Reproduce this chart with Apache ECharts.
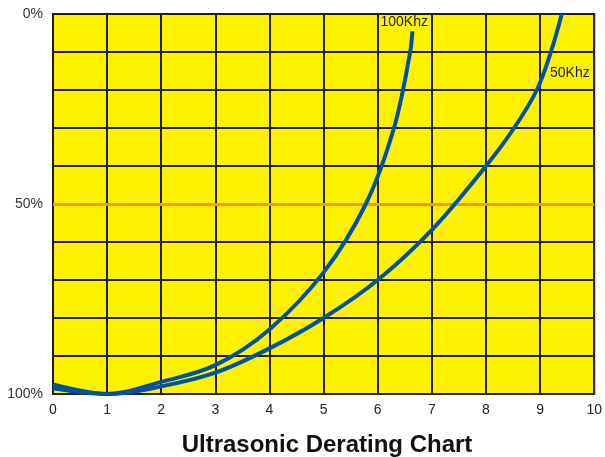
<!DOCTYPE html>
<html>
<head>
<meta charset="utf-8">
<script src="https://cdn.jsdelivr.net/npm/echarts@6/dist/echarts.min.js"></script>
<style>
  html, body { margin: 0; padding: 0; background: #fff; }
  #chart { width: 605px; height: 457px; }
</style>
</head>
<body>
<div id="chart"></div>
<script>
// frequency (x) vs derating % (0% at top, 100% at bottom)
const x100 = [0, 1, 2, 3, 4, 5, 5.78, 6.3, 6.6, 6.64];
const y100 = [97.5, 100, 96.8, 92.4, 83, 68, 50, 30, 10, 4.6];
const x50 = [0, 1, 2, 3, 4, 5, 6, 7, 8, 8.52, 8.94, 9.2, 9.4];
const y50 = [98.5, 100, 98.0, 94.4, 88, 80, 70, 56.8, 40, 30, 20, 10, 0];
const xTicks = [0, 1, 2, 3, 4, 5, 6, 7, 8, 9, 10];
const yLabels = { 0: '0%', 50: '50%', 100: '100%' };
const halfLine = 50;

const pairs = (xs, ys) => xs.map((v, i) => [v, ys[i]]);

const myChart = echarts.init(document.getElementById('chart'));
const gridColor = '#231f20';
const curveColor = '#0052a5';
const font = 'Liberation Sans, Arial, sans-serif';

const option = {
  animation: false,
  title: {
    text: 'Ultrasonic Derating Chart',
    left: 322,
    top: 428,
    textAlign: 'center',
    textStyle: { fontFamily: font, fontSize: 24, fontWeight: 'bold', color: '#111' }
  },
  grid: {
    left: 53, right: 10, top: 14, bottom: 63,
    show: true,
    backgroundColor: '#fff200',
    borderColor: gridColor,
    borderWidth: 2
  },
  xAxis: {
    type: 'value',
    min: xTicks[0],
    max: xTicks[xTicks.length - 1],
    interval: 1,
    axisLine: { show: false },
    axisTick: { show: false },
    splitLine: { show: true, lineStyle: { color: gridColor, width: 2 } },
    axisLabel: { margin: 9, fontFamily: font, fontSize: 14, color: '#222' }
  },
  yAxis: {
    type: 'value',
    inverse: true,
    min: 0,
    max: 100,
    interval: 10,
    axisLine: { show: false },
    axisTick: { show: false },
    splitLine: { show: true, lineStyle: { color: gridColor, width: 2 } },
    axisLabel: {
      margin: 10,
      fontFamily: font,
      fontSize: 14,
      color: '#333',
      formatter: v => yLabels[v] || ''
    }
  },
  series: [
    {
      name: '100Khz',
      type: 'line',
      data: pairs(x100, y100),
      smooth: 0.35,
      showSymbol: false,
      lineStyle: { color: curveColor, width: 4 },
      z: 5,
      markLine: {
        silent: true,
        symbol: 'none',
        label: { show: false },
        lineStyle: { color: '#f7941d', width: 3, type: 'solid' },
        data: [{ yAxis: halfLine }],
        z: 3
      },
      markPoint: {
        symbol: 'circle',
        symbolSize: 1,
        itemStyle: { color: 'transparent' },
        label: { show: true, formatter: '100Khz', position: 'inside', fontFamily: font, fontSize: 14, color: '#222' },
        data: [{ coord: [6.49, 2.1] }]
      }
    },
    {
      name: '50Khz',
      type: 'line',
      data: pairs(x50, y50),
      smooth: 0.35,
      showSymbol: false,
      lineStyle: { color: curveColor, width: 4 },
      z: 5,
      markPoint: {
        symbol: 'circle',
        symbolSize: 1,
        itemStyle: { color: 'transparent' },
        label: { show: true, formatter: '50Khz', position: 'inside', fontFamily: font, fontSize: 14, color: '#222' },
        data: [{ coord: [9.55, 15.5] }]
      }
    }
  ]
};
myChart.setOption(option);
</script>
</body>
</html>
